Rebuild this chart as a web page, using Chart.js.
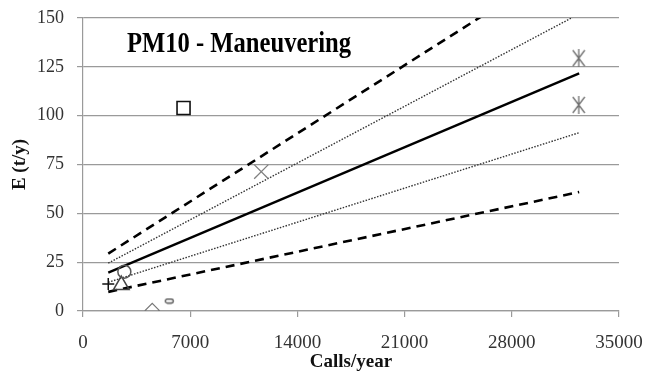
<!DOCTYPE html>
<html>
<head>
<meta charset="utf-8">
<script src="https://cdn.jsdelivr.net/npm/chart.js@4/dist/chart.umd.min.js"></script>
<style>
  html, body { margin: 0; padding: 0; background: #ffffff; }
  #wrap { width: 659px; height: 373px; position: relative; }
</style>
</head>
<body>
<div id="wrap"><canvas id="chart"></canvas></div>
<script>
// Axis ticks
const xTicks = [0, 7000, 14000, 21000, 28000, 35000];
const yTicks = [0, 25, 50, 75, 100, 125, 150];

// Regression line and its bands (start / end of the calls range)
const fitCalls = [1650, 32400];
const fitE = [19.6, 121.7];
const upper50E = [29.4, 182.6];
const upper25E = [24.5, 152.1];
const lower25E = [14.7, 91.3];
const lower50E = [9.8, 60.9];

// Individual ports: calls per year and emissions (t/y)
const portCalls = [1650, 2700, 2500, 4520, 5630, 6565, 11640, 32370, 32370];
const portE = [13.8, 20.1, 13.3, 0.3, 5.1, 103.9, 71.3, 129.4, 105.5];

const SERIF = "'Liberation Serif', 'Times New Roman', serif";

// Custom marker glyphs
function asteriskGlyph(color) {
  const c = document.createElement('canvas');
  c.width = 14; c.height = 18;
  const g = c.getContext('2d');
  g.strokeStyle = color; g.lineWidth = 1.3;
  g.beginPath();
  g.moveTo(1, 1); g.lineTo(13, 17);
  g.moveTo(13, 1); g.lineTo(1, 17);
  g.moveTo(7, 0); g.lineTo(7, 18);
  g.stroke();
  return c;
}
function dashGlyph(color) {
  const c = document.createElement('canvas');
  c.width = 11; c.height = 7;
  const g = c.getContext('2d');
  g.strokeStyle = color; g.lineWidth = 1.3;
  g.beginPath();
  g.roundRect(1.5, 1.5, 8, 4, 2);
  g.stroke();
  return c;
}

const markerLooks = [
  { pointStyle: 'cross',    radius: 6,  color: '#111111', width: 1.5 },
  { pointStyle: 'circle',   radius: 6.5,color: '#555555', width: 1.5 },
  { pointStyle: 'triangle', radius: 9,  color: '#444444', width: 1.5 },
  { pointStyle: 'rectRot',  radius: 7,  color: '#777777', width: 1.3 },
  { pointStyle: dashGlyph('#555555'), radius: 5, color: '#555555', width: 1 },
  { pointStyle: 'rect',     radius: 9.2,color: '#111111', width: 1.6 },
  { pointStyle: 'crossRot', radius: 10, color: '#808080', width: 1.3 },
  { pointStyle: asteriskGlyph('#707070'), radius: 8, color: '#707070', width: 1 },
  { pointStyle: asteriskGlyph('#707070'), radius: 8, color: '#707070', width: 1 }
];

const markerSets = portCalls.map((c, i) => ({
  data: [{ x: c, y: portE[i] }],
  pointStyle: markerLooks[i].pointStyle,
  pointRadius: markerLooks[i].radius,
  borderColor: markerLooks[i].color,
  pointBorderColor: markerLooks[i].color,
  pointBackgroundColor: 'rgba(255,255,255,0)',
  pointBorderWidth: markerLooks[i].width,
  showLine: false
}));

function lineSet(values, dash, width, color) {
  return {
    data: fitCalls.map((c, i) => ({ x: c, y: values[i] })),
    showLine: true,
    borderColor: color,
    borderWidth: width,
    borderDash: dash,
    pointRadius: 0,
    fill: false,
    clip: 0
  };
}

const lineSets = [
  lineSet(fitE, [], 2.4, '#000000'),
  lineSet(upper25E, [1.5, 1.5], 1.4, '#333333'),
  lineSet(lower25E, [1.5, 1.5], 1.4, '#333333'),
  lineSet(upper50E, [9, 6], 2.6, '#000000'),
  lineSet(lower50E, [9, 6], 2.6, '#000000')
];

// Heading written inside the plot area
const headingPlugin = {
  id: 'heading',
  afterDraw(chart) {
    const ctx = chart.ctx;
    ctx.save();
    ctx.translate(127, 52);
    ctx.scale(0.82, 1);
    ctx.font = 'bold 30px ' + SERIF;
    ctx.fillStyle = '#000000';
    ctx.textBaseline = 'alphabetic';
    ctx.textAlign = 'left';
    ctx.fillText('PM10 - Maneuvering', 0, 0);
    ctx.restore();
  }
};

new Chart(document.getElementById('chart'), {
  type: 'scatter',
  data: { datasets: markerSets.concat(lineSets) },
  options: {
    responsive: true,
    maintainAspectRatio: false,
    animation: false,
    events: [],
    layout: { padding: { top: 18, right: 40, left: 0, bottom: 0 } },
    plugins: {
      legend: { display: false },
      tooltip: { enabled: false }
    },
    scales: {
      x: {
        type: 'linear',
        min: 0, max: 35000,
        afterBuildTicks: s => { s.ticks = xTicks.map(v => ({ value: v })); },
        afterFit: s => { s.height = 62; s.paddingLeft = 0; s.paddingRight = 0; },
        grid: { drawOnChartArea: false, drawTicks: true, tickLength: 6, color: '#9a9a9a', lineWidth: 1.2 },
        border: { color: '#9a9a9a', width: 1.2 },
        ticks: {
          padding: 15,
          color: '#333333',
          font: { family: SERIF, size: 19 },
          maxRotation: 0,
          callback: v => String(v)
        },
        title: {
          display: true,
          text: 'Calls/year',
          color: '#111111',
          font: { family: SERIF, size: 19, weight: 'bold' },
          padding: { top: 0, bottom: 0 }
        }
      },
      y: {
        type: 'linear',
        min: 0, max: 150,
        afterBuildTicks: s => { s.ticks = yTicks.map(v => ({ value: v })); },
        afterFit: s => { s.width = 83; s.paddingTop = 0; s.paddingBottom = 0; },
        grid: { drawOnChartArea: true, drawTicks: true, tickLength: 6, color: '#9a9a9a', lineWidth: 1.2 },
        border: { color: '#9a9a9a', width: 1.2 },
        ticks: {
          padding: 13,
          color: '#333333',
          font: { family: SERIF, size: 18 },
          callback: v => String(v)
        },
        title: {
          display: true,
          text: 'E (t/y)',
          color: '#111111',
          font: { family: SERIF, size: 19, weight: 'bold' },
          padding: { top: 9, bottom: 0 }
        }
      }
    }
  },
  plugins: [headingPlugin]
});
</script>
</body>
</html>
